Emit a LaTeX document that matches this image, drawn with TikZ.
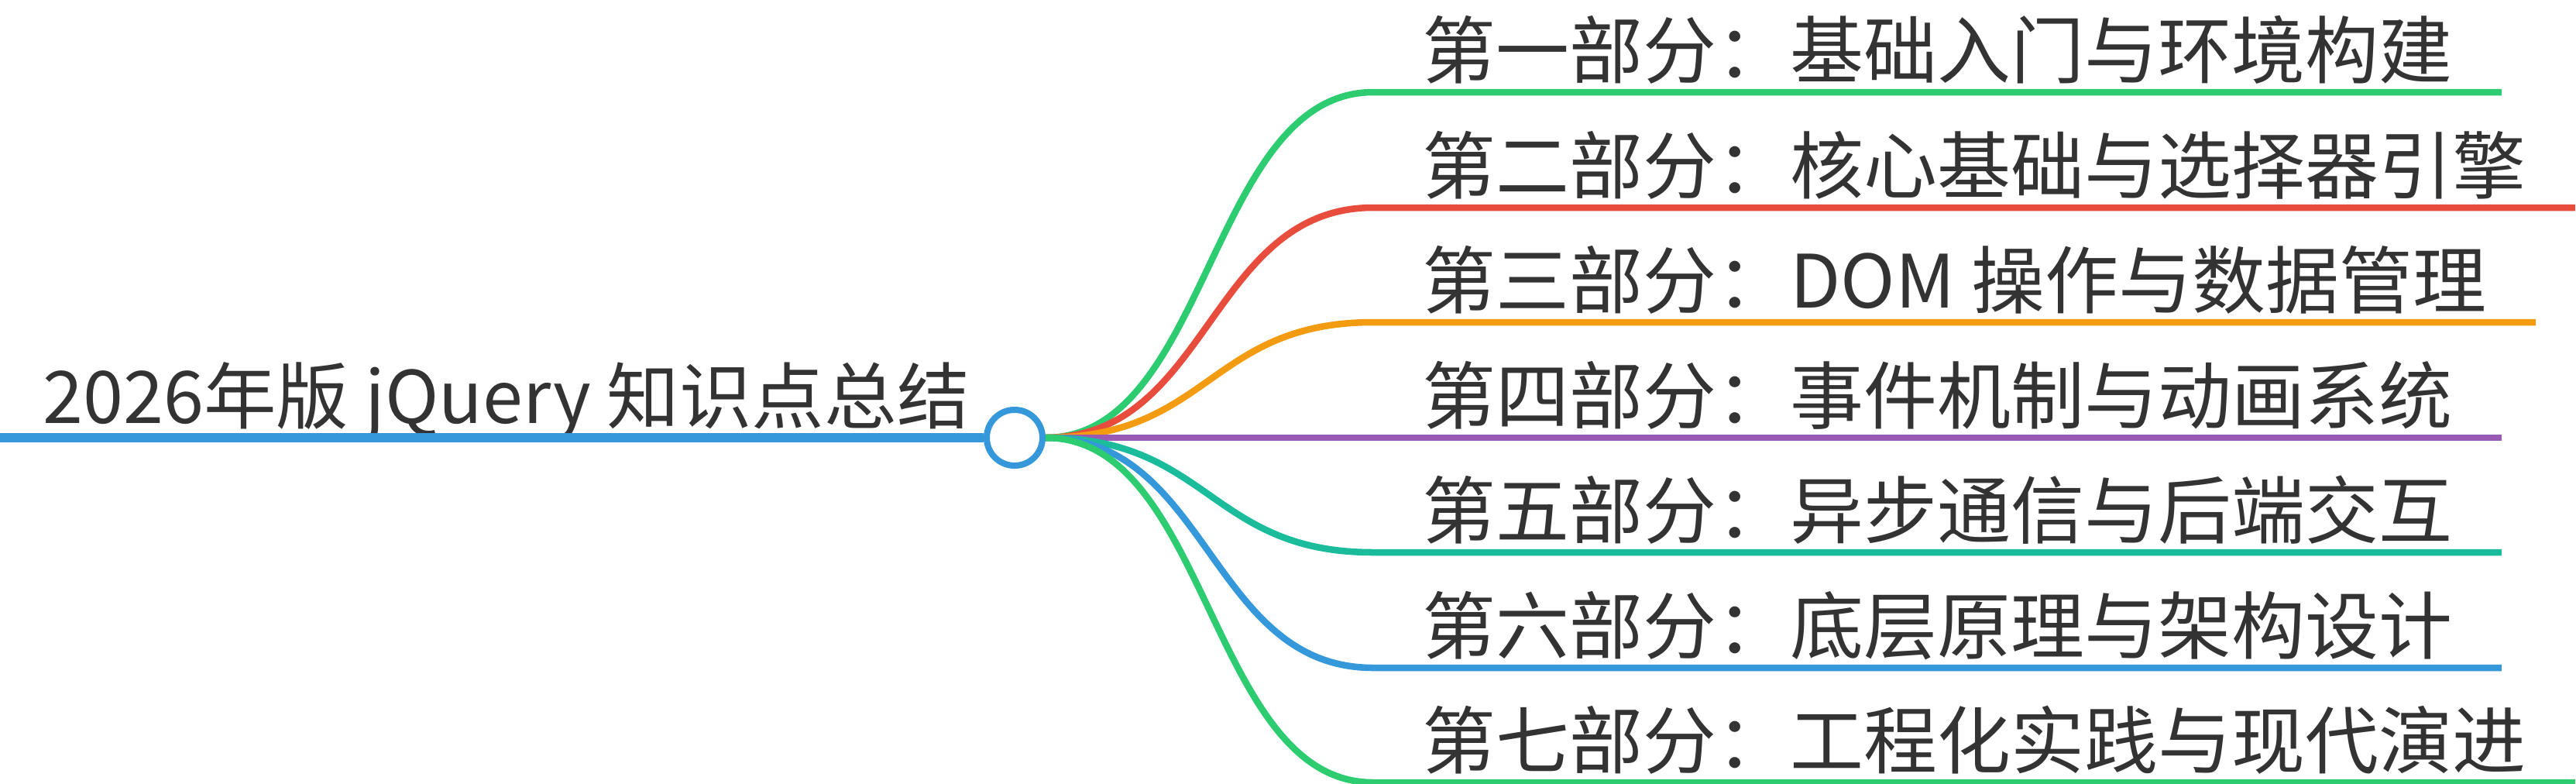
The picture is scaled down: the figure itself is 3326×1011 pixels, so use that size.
\documentclass[tikz,border=0pt]{standalone}
\usepackage{fontspec}
\setmainfont{Noto Sans CJK SC}
\usepackage{tikz}
\usetikzlibrary{positioning}

\definecolor{inkgray}{HTML}{333333}
\definecolor{flatblue}{HTML}{3498DB}
\definecolor{flatgreen}{HTML}{2ECC71}
\definecolor{flatred}{HTML}{E74C3C}
\definecolor{flatorange}{HTML}{F39C12}
\definecolor{flatpurple}{HTML}{9B59B6}
\definecolor{flatteal}{HTML}{1ABC9C}

\tikzset{
topic/.style={font=\fontsize{27pt}{32pt}\selectfont, text=inkgray,
  inner xsep=0.63cm, inner ysep=0pt, text height=0.8cm, text depth=0.175cm,
  anchor=south west}, % the text sits right on its own line
trunk/.style={line width=0.12cm, flatblue}, % the thick root line
branch/.style={line width=0.085cm}, % curved link plus underline
hub/.style={circle, draw=flatblue, fill=white, line width=0.08cm, minimum size=0.72cm, inner sep=0pt},
}

\begin{document}
\begin{tikzpicture}[x=0.01cm, y=-0.01cm]
  \useasboundingbox (0,0) rectangle (3326,1011);

  \node[topic, inner xsep=0.55cm, font=\fontsize{26.6pt}{32pt}\selectfont] (root) at (0,565) {2026年版 jQuery 知识点总结};
  \node[hub] (hub) at (1310,565) {};
  \draw[trunk] (root.south west) -- (hub.west);

  \node[topic] (p1) at (1773,119) {第一部分：基础入门与环境构建};
  \node[topic] (p2) at (1773,268) {第二部分：核心基础与选择器引擎};
  \node[topic] (p3) at (1773,416) {第三部分：DOM 操作与数据管理};
  \node[topic] (p4) at (1773,565) {第四部分：事件机制与动画系统};
  \node[topic] (p5) at (1773,713) {第五部分：异步通信与后端交互};
  \node[topic] (p6) at (1773,862) {第六部分：底层原理与架构设计};
  \node[topic] (p7) at (1773,1010) {第七部分：工程化实践与现代演进};

  \draw[branch, flatgreen] (hub.east) .. controls +(211,0) and +(-211,0) .. (p1.south west) -- (p1.south east);
  \draw[branch, flatred] (hub.east) .. controls +(211,0) and +(-211,0) .. (p2.south west) -- (p2.south east);
  \draw[branch, flatorange] (hub.east) .. controls +(211,0) and +(-211,0) .. (p3.south west) -- (p3.south east);
  \draw[branch, flatpurple] (hub.east) -- (p4.south west) -- (p4.south east);
  \draw[branch, flatteal] (hub.east) .. controls +(211,0) and +(-211,0) .. (p5.south west) -- (p5.south east);
  \draw[branch, flatblue] (hub.east) .. controls +(211,0) and +(-211,0) .. (p6.south west) -- (p6.south east);
  \draw[branch, flatgreen] (hub.east) .. controls +(211,0) and +(-211,0) .. (p7.south west) -- (p7.south east);
\end{tikzpicture}
\end{document}
